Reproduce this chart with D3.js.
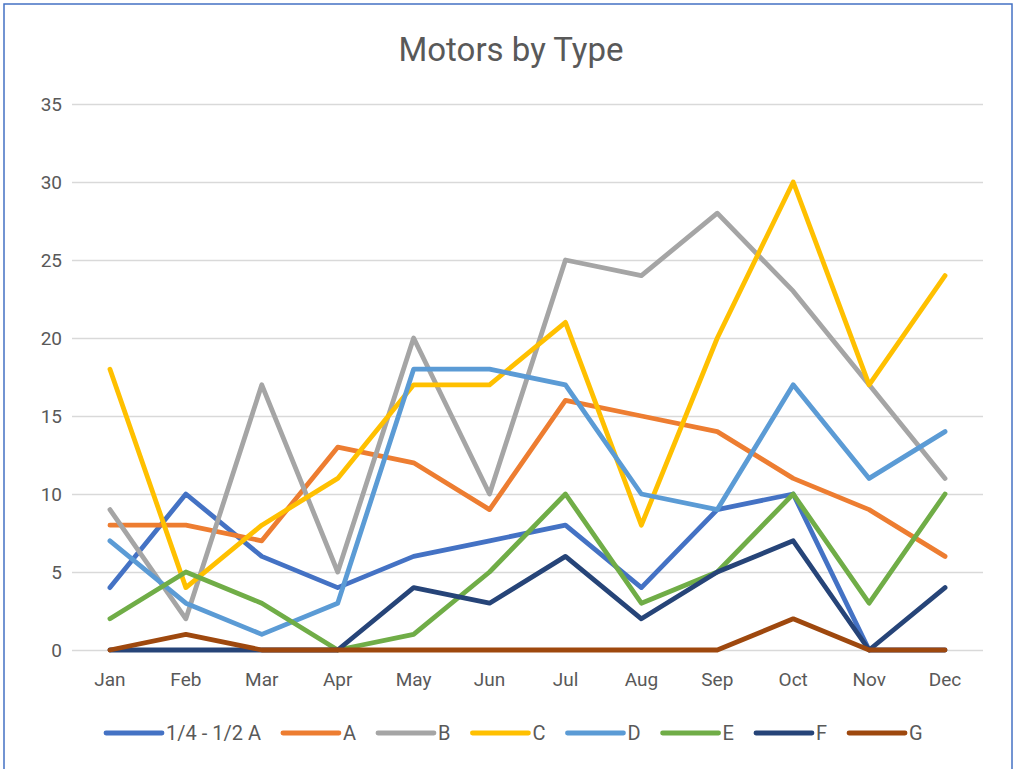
<!DOCTYPE html>
<html>
<head>
<meta charset="utf-8">
<script src="https://cdn.jsdelivr.net/npm/d3@7"></script>
<style>
  body { margin: 0; background: #fff; }
  text { font-family: "Liberation Sans Narrow", "Roboto", sans-serif; fill: #595959; }
</style>
</head>
<body>
<div id="main"></div>
<script>
// chart data
const months = ['Jan', 'Feb', 'Mar', 'Apr', 'May', 'Jun', 'Jul', 'Aug', 'Sep', 'Oct', 'Nov', 'Dec'];
const seriesNames = ['1/4 - 1/2 A', 'A', 'B', 'C', 'D', 'E', 'F', 'G'];
const quarterHalfA = [4, 10, 6, 4, 6, 7, 8, 4, 9, 10, 0, 0];
const typeA = [8, 8, 7, 13, 12, 9, 16, 15, 14, 11, 9, 6];
const typeB = [9, 2, 17, 5, 20, 10, 25, 24, 28, 23, 17, 11];
const typeC = [18, 4, 8, 11, 17, 17, 21, 8, 20, 30, 17, 24];
const typeD = [7, 3, 1, 3, 18, 18, 17, 10, 9, 17, 11, 14];
const typeE = [2, 5, 3, 0, 1, 5, 10, 3, 5, 10, 3, 10];
const typeF = [0, 0, 0, 0, 4, 3, 6, 2, 5, 7, 0, 4];
const typeG = [0, 1, 0, 0, 0, 0, 0, 0, 0, 2, 0, 0];
const yTicks = [0, 5, 10, 15, 20, 25, 30, 35];
const colors = ['#4472C4', '#ED7D31', '#A5A5A5', '#FFC000', '#5B9BD5', '#70AD47', '#264478', '#9E480E'];

function main() {
  const width = 1017, height = 769;
  const svg = d3.select('#main').append('svg')
    .attr('width', width)
    .attr('height', height);

  // outer chart border
  svg.append('rect')
    .attr('x', 4).attr('y', 4)
    .attr('width', 1008).attr('height', 780)
    .attr('fill', 'none')
    .attr('stroke', '#4472C4')
    .attr('stroke-width', 1.5);

  // title
  svg.append('text')
    .attr('x', 511).attr('y', 61)
    .attr('text-anchor', 'middle')
    .style('font-size', '33px')
    .text('Motors by Type');

  const x = d3.scaleBand().domain(months).range([72, 983]);
  const y = d3.scaleLinear().domain([0, 35]).range([650, 104]);

  // gridlines
  svg.append('g')
    .selectAll('line')
    .data(yTicks)
    .enter()
    .append('line')
    .attr('x1', 72).attr('x2', 983)
    .attr('y1', d => Math.round(y(d)) + 0.5).attr('y2', d => Math.round(y(d)) + 0.5)
    .attr('stroke', '#D9D9D9')
    .attr('stroke-width', 1.3);

  // y axis labels
  const yAxis = svg.append('g')
    .attr('transform', 'translate(62,0)')
    .call(d3.axisLeft(y).tickValues(yTicks).tickSize(0).tickPadding(0));
  yAxis.select('.domain').remove();
  yAxis.selectAll('text').style('font-size', '19px').attr('fill', '#595959');

  // x axis labels
  const xAxis = svg.append('g')
    .attr('transform', 'translate(0,668)')
    .call(d3.axisBottom(x).tickSize(0).tickPadding(4));
  xAxis.select('.domain').remove();
  xAxis.selectAll('text').style('font-size', '19px').attr('fill', '#595959');

  // series lines
  const allSeries = [quarterHalfA, typeA, typeB, typeC, typeD, typeE, typeF, typeG];
  const line = d3.line()
    .x((d, i) => x(months[i]) + x.bandwidth() / 2)
    .y(d => y(d));
  svg.append('g')
    .selectAll('path')
    .data(allSeries)
    .enter()
    .append('path')
    .attr('d', d => line(d))
    .attr('fill', 'none')
    .attr('stroke', (d, i) => colors[i])
    .attr('stroke-width', 4.8)
    .attr('stroke-linejoin', 'round')
    .attr('stroke-linecap', 'round');

  // legend, laid out left to right
  const legend = svg.append('g');
  let lx = 106;
  const ly = 733;
  seriesNames.forEach((name, i) => {
    legend.append('line')
      .attr('x1', lx).attr('x2', lx + 56)
      .attr('y1', ly).attr('y2', ly)
      .attr('stroke', colors[i])
      .attr('stroke-width', 4.8)
      .attr('stroke-linecap', 'round');
    const t = legend.append('text')
      .attr('x', lx + 60).attr('y', ly + 7)
      .style('font-size', '20px')
      .text(name);
    lx += 60 + t.node().getComputedTextLength() + 22;
  });
}
document.addEventListener('DOMContentLoaded', main);
</script>
</body>
</html>
